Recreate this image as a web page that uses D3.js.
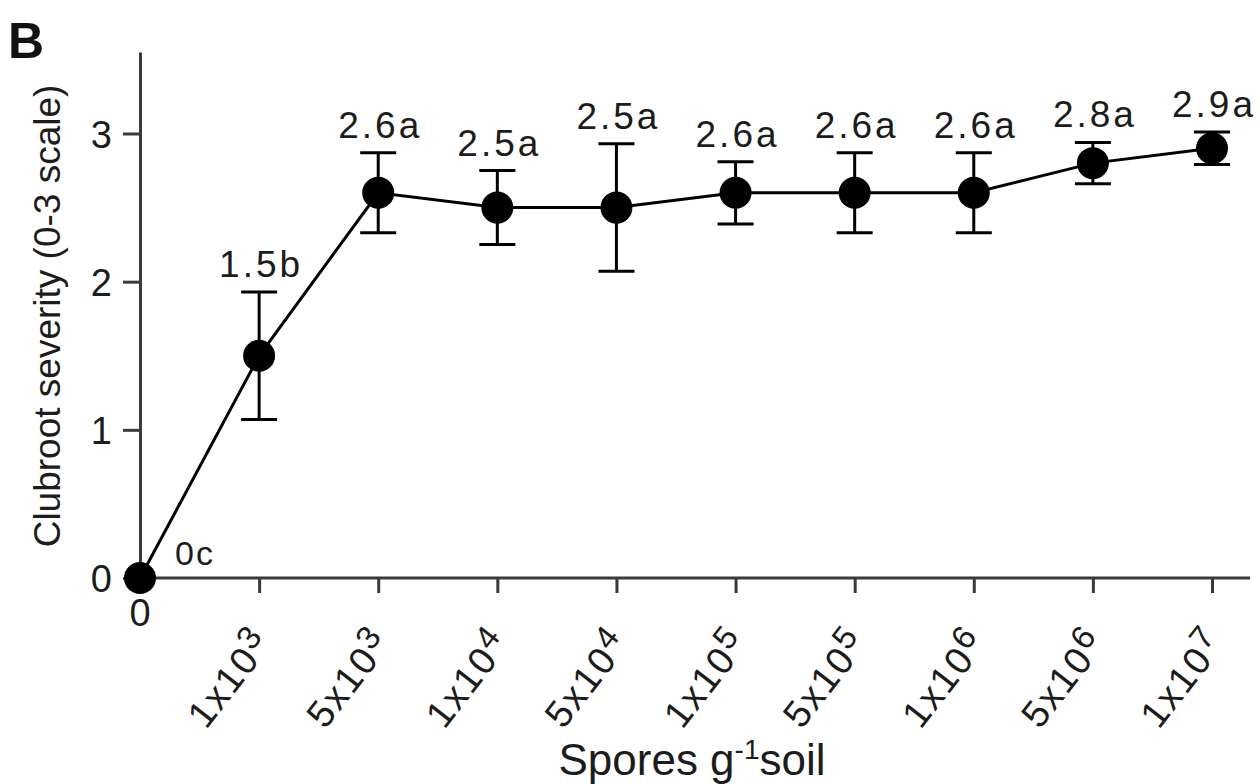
<!DOCTYPE html>
<html>
<head>
<meta charset="utf-8">
<script src="https://cdn.jsdelivr.net/npm/d3@7"></script>
<style>
  body { margin: 0; background: #fff; }
  svg { display: block; }
  svg text { font-family: "Liberation Sans", Arial, sans-serif; }
</style>
</head>
<body>
<svg id="chart" width="1260" height="784"></svg>
<script>
// spore densities (tick label = base + superscript exponent)
const tickBase = ['0', '1x10', '5x10', '1x10', '5x10', '1x10', '5x10', '1x10', '5x10', '1x10'];
const tickExp = ['', '3', '3', '4', '4', '5', '5', '6', '6', '7'];
// mean clubroot severity and error bar half-widths
const severity = [0, 1.5, 2.6, 2.5, 2.5, 2.6, 2.6, 2.6, 2.8, 2.9];
const errBar = [0, 0.43, 0.27, 0.25, 0.43, 0.21, 0.27, 0.27, 0.14, 0.11];
const letters = ['c', 'b', 'a', 'a', 'a', 'a', 'a', 'a', 'a', 'a'];
const yTicks = [0, 1, 2, 3];

const data = severity.map((v, i) => ({ i, v, e: errBar[i], letter: letters[i] }));

const svg = d3.select('#chart');
const ink = '#1c1c1c';
const axisInk = '#3a3a3a';

const x = d3.scalePoint()
  .domain(d3.range(severity.length))
  .range([140, 1212]);

const y = d3.scaleLinear()
  .domain([0, 3.55])
  .range([578, 52]);

// y axis
const yAxis = svg.append('g')
  .attr('transform', 'translate(140,0)')
  .call(d3.axisLeft(y).tickValues(yTicks).tickFormat(d3.format('d'))
    .tickSize(17).tickSizeOuter(0).tickPadding(11));
yAxis.attr('font-family', null);
yAxis.select('.domain').attr('stroke', axisInk).attr('stroke-width', 3);
yAxis.selectAll('.tick line').attr('stroke', axisInk).attr('stroke-width', 3);
yAxis.selectAll('.tick text')
  .attr('fill', ink)
  .style('font-size', '38px')
  .attr('dy', '0.36em');

// x axis
const xAxis = svg.append('g')
  .attr('transform', 'translate(0,578)')
  .call(d3.axisBottom(x).tickSize(15).tickSizeOuter(0).tickFormat(''));
xAxis.select('.domain')
  .attr('d', 'M140,0H1250')
  .attr('stroke', axisInk).attr('stroke-width', 3);
xAxis.selectAll('.tick line').attr('stroke', axisInk).attr('stroke-width', 3);

// x tick labels
const xLabels = svg.append('g').attr('fill', ink).style('font-size', '38px');
xLabels.selectAll('text')
  .data(d3.range(tickBase.length))
  .join('text')
  .attr('text-anchor', i => i === 0 ? 'middle' : 'end')
  .attr('letter-spacing', i => i === 0 ? 0 : 2)
  .attr('transform', i => i === 0
    ? `translate(${x(i)},626)`
    : `translate(${x(i) + 15},643) rotate(-52)`)
  .each(function (i) {
    const t = d3.select(this);
    t.append('tspan').text(tickBase[i]);
    if (tickExp[i]) {
      t.append('tspan').attr('dy', -12).style('font-size', '33px').text(tickExp[i]);
    }
  });

// connecting line
svg.append('path')
  .datum(data)
  .attr('fill', 'none')
  .attr('stroke', '#000')
  .attr('stroke-width', 3)
  .attr('d', d3.line().x(d => x(d.i)).y(d => y(d.v)));

// error bars
const bars = svg.append('g').attr('stroke', '#000').attr('stroke-width', 3);
const withErr = data.filter(d => d.e > 0);
bars.selectAll('line.stem')
  .data(withErr)
  .join('line')
  .attr('class', 'stem')
  .attr('x1', d => x(d.i)).attr('x2', d => x(d.i))
  .attr('y1', d => y(d.v - d.e)).attr('y2', d => y(d.v + d.e));
bars.selectAll('line.capTop')
  .data(withErr)
  .join('line')
  .attr('class', 'capTop')
  .attr('x1', d => x(d.i) - 18).attr('x2', d => x(d.i) + 18)
  .attr('y1', d => y(d.v + d.e)).attr('y2', d => y(d.v + d.e));
bars.selectAll('line.capBot')
  .data(withErr)
  .join('line')
  .attr('class', 'capBot')
  .attr('x1', d => x(d.i) - 18).attr('x2', d => x(d.i) + 18)
  .attr('y1', d => y(d.v - d.e)).attr('y2', d => y(d.v - d.e));

// points
svg.append('g')
  .selectAll('circle')
  .data(data)
  .join('circle')
  .attr('cx', d => x(d.i))
  .attr('cy', d => y(d.v))
  .attr('r', 16)
  .attr('fill', '#000');

// mean + letter labels
svg.append('g')
  .attr('fill', ink)
  .selectAll('text')
  .data(data)
  .join('text')
  .attr('text-anchor', d => d.e > 0 ? 'middle' : 'start')
  .attr('letter-spacing', d => d.e > 0 ? 3 : 2)
  .style('font-size', d => d.e > 0 ? '37px' : '34px')
  .attr('x', d => d.e > 0 ? x(d.i) + 2 : x(d.i) + 35)
  .attr('y', d => d.e > 0 ? y(d.v + d.e) - 15 : y(d.v) - 13)
  .text(d => `${d.v}${d.letter}`);

// axis titles
svg.append('text')
  .attr('transform', 'translate(60,316) rotate(-90)')
  .attr('text-anchor', 'middle')
  .attr('fill', ink)
  .style('font-size', '37px')
  .text('Clubroot severity (0-3 scale)');

const xTitle = svg.append('text')
  .attr('x', 692)
  .attr('y', 775)
  .attr('text-anchor', 'middle')
  .attr('fill', ink)
  .style('font-size', '44px');
xTitle.append('tspan').text('Spores g');
xTitle.append('tspan').attr('dy', -16).style('font-size', '28px').text('-1');
xTitle.append('tspan').attr('dy', 16).text('soil');

// panel letter
svg.append('text')
  .attr('x', 8)
  .attr('y', 58)
  .attr('fill', '#111')
  .style('font-size', '50px')
  .style('font-weight', 'bold')
  .text('B');
</script>
</body>
</html>
